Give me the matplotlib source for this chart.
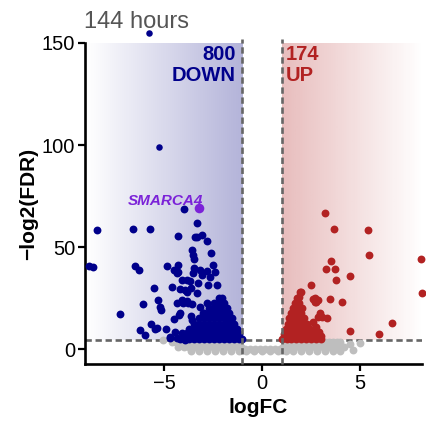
import matplotlib
matplotlib.use("Agg")
import matplotlib.pyplot as plt
import numpy as np

plt.rcParams['font.family'] = ['Liberation Sans', 'DejaVu Sans']

# scattered down-regulated genes (logFC, -log2 FDR)
down_x = [-8.41, -8.83, -8.61, -6.60, -5.71, -3.96, -4.30, -6.48, -6.26, -4.83,
          -4.30, -4.30, -3.33, -3.42, -3.30, -3.05, -2.79, -3.59, -3.50, -3.47,
          -2.62, -3.45, -3.16, -2.82, -2.48, -2.40, -5.51, -4.61, -5.29, -5.15,
          -6.09, -7.24, -6.22, -5.97, -5.68, -5.37, -4.91, -4.69, -4.51, -4.25,
          -4.10, -3.84, -3.67, -4.18, -3.93, -4.35, -4.10, -3.84, -4.49, -4.35,
          -3.50, -3.08, -2.65, -2.31, -3.25, -2.74, -3.84, -3.33, -4.10, -3.76,
          -3.16, -2.82, -4.18, -2.99, -2.57, -5.20, -4.01, -4.44, -4.10, -3.84,
          -3.59, -4.69, -4.35, -3.93, -3.76, -3.60, -3.55, -3.62, -3.58, -5.46]
down_y = [58.5, 40.8, 40.0, 58.7, 58.7, 68.8, 55.4, 40.8, 38.7, 40.8,
          41.2, 37.9, 61.9, 55.1, 54.8, 55.9, 52.9, 48.5, 46.1, 44.0,
          46.9, 39.6, 38.7, 38.4, 41.2, 37.9, 29.9, 30.2, 24.0, 19.1,
          22.2, 17.2, 9.3, 6.9, 12.3, 10.1, 9.6, 6.0, 14.6, 16.7,
          33.8, 33.8, 33.5, 29.3, 28.9, 22.4, 23.2, 23.5, 38.7, 37.4,
          37.1, 36.3, 35.5, 31.4, 32.2, 31.4, 28.1, 27.3, 24.0, 22.4,
          20.7, 22.4, 17.5, 17.5, 18.3, 20.7, 22.4, 8.5, 7.7, 8.0,
          8.5, 5.2, 5.2, 4.4, 6.0, 30.0, 22.0, 16.0, 14.0, 9.6]

# dense down-regulated core near the threshold
down_core_x = [-4.20, -3.95, -3.70, -3.45, -3.20, -2.95, -2.70, -2.45, -2.20, -1.95, -1.70, -1.45, -1.20, -1.02,
               -3.95, -3.70, -3.45, -3.20, -2.95, -2.70, -2.45, -2.20, -1.95, -1.70, -1.45, -1.18,
               -3.70, -3.45, -3.20, -2.95, -2.70, -2.45, -2.20, -1.95, -1.70, -1.45, -1.30,
               -3.45, -3.20, -2.95, -2.70, -2.45, -2.20, -1.95, -1.70, -1.45,
               -3.20, -2.95, -2.70, -2.45, -2.20, -1.95, -1.75, -1.55,
               -2.95, -2.70, -2.45, -2.20, -1.95, -1.70,
               -2.70, -2.45, -2.20, -2.00, -1.80,
               -2.45, -2.20, -1.95,
               -2.20, -2.05]
down_core_y = [5.0] * 14 + [7.5] * 12 + [10.0] * 11 + [12.5] * 9 + [15.0] * 8 + \
              [17.5] * 6 + [20.0] * 5 + [22.5] * 3 + [25.0] * 2

# up-regulated genes
up_x = [3.20, 3.66, 5.42, 5.48, 8.13, 8.18, 3.50, 3.28, 3.71, 3.76,
        4.47, 2.48, 3.45, 4.10, 2.69, 2.77, 2.87, 1.97, 1.89, 2.94,
        2.87, 3.05, 3.33, 4.47, 5.95, 6.63, 2.62, 2.70, 2.60, 2.75,
        2.90, 3.00, 1.94]
up_y = [66.5, 58.7, 58.3, 45.9, 44.1, 27.3, 43.1, 39.2, 39.2, 33.8,
        35.8, 31.4, 24.5, 23.2, 24.9, 23.2, 24.0, 28.1, 25.6, 17.8,
        15.5, 15.8, 15.0, 8.8, 7.4, 12.6, 24.4, 22.9, 13.0, 11.0,
        8.5, 6.5, 28.1]

up_core_x = [1.00, 1.25, 1.50, 1.75, 2.00, 2.25, 2.50, 2.75, 3.00,
             1.10, 1.35, 1.60, 1.85, 2.10, 2.35, 2.60, 2.85,
             1.20, 1.45, 1.70, 1.95, 2.20, 2.45, 2.70,
             1.30, 1.55, 1.80, 2.05, 2.30,
             1.40, 1.65, 1.90, 2.15,
             1.50, 1.75, 2.00,
             1.60, 1.85, 2.05,
             1.70, 1.90,
             1.80]
up_core_y = [5.0] * 9 + [7.5] * 8 + [10.0] * 7 + [12.5] * 5 + [15.0] * 4 + \
            [17.5] * 3 + [20.0] * 3 + [22.5] * 2 + [25.0]

# not significant
ns_x = [-4.6, -4.4, -4.2, -4.0, -3.8, -3.6, -3.4, -3.2, -3.0, -2.8, -2.6, -2.4, -2.2, -2.0,
        -1.8, -1.6, -1.4, -1.2,
        1.2, 1.4, 1.6, 1.8, 2.0, 2.2, 2.4, 2.6, 2.8, 3.0, 3.2, 3.4, 3.6, 3.8, 4.0,
        -4.3, -4.0, -3.7, -3.4, -3.1, -2.8, -2.5, -2.2, -1.9, -1.6, -1.3, -1.05,
        1.05, 1.3, 1.6, 1.9, 2.2, 2.5, 2.8, 3.1, 3.4, 3.7, 4.0,
        -0.85, -0.6, -0.35, -0.1, 0.15, 0.4, 0.65, 0.9,
        -3.6, -3.2, -2.8, -2.4, -2.0, -1.6, -1.2, -0.8, -0.4, 0.0, 0.4, 0.8,
        1.2, 1.6, 2.0, 2.4, 2.8, 3.2, 3.6, 4.0,
        -5.03, 4.49, 4.66, 5.0, 4.2]
ns_y = [3.2] * 33 + [1.2] * 23 + [0.0] * 8 + [-0.8] * 20 + [4.3, 2.5, -0.5, 3.1, 1.1]

top_x = [-5.77, -5.27]
top_y = [154.7, 99.2]

gene_x, gene_y, gene_name = -3.23, 69.0, "SMARCA4"
n_down, n_up = 800, 174
fdr_line = -np.log2(0.05)
fc_cut = 1

fig = plt.figure(figsize=(4.26, 4.23), dpi=100)
ax = fig.add_axes([85 / 426, 59 / 423, 337 / 426, 321 / 423])
xmin, xmax, ymin, ymax = -9.03, 8.16, -7.35, 150

# gradient backgrounds
grad = np.linspace(0, 1, 256).reshape(1, -1)
blue = np.zeros((1, 256, 4))
blue[..., :3] = matplotlib.colors.to_rgb('#000080')
blue[..., 3] = grad * 0.3
ax.imshow(blue, extent=[xmin, -fc_cut, fdr_line, ymax], aspect='auto', zorder=0, interpolation='bilinear')
red = np.zeros((1, 256, 4))
red[..., :3] = matplotlib.colors.to_rgb('#B22222')
red[..., 3] = grad[:, ::-1] * 0.3
ax.imshow(red, extent=[fc_cut, xmax, fdr_line, ymax], aspect='auto', zorder=0, interpolation='bilinear')

dash = dict(color='#666666', lw=1.9, ls=(0, (2.4, 1.4)))
ax.axhline(fdr_line, zorder=1, **dash)

ms = 32
ax.scatter(ns_x, ns_y, s=ms, c='#bebebe', lw=0, zorder=2, clip_on=False)
ax.scatter(down_x + down_core_x, down_y + down_core_y, s=ms, c='#00008B', lw=0, zorder=3, clip_on=False)
ax.scatter(up_x + up_core_x, up_y + up_core_y, s=ms, c='#B22222', lw=0, zorder=3, clip_on=False)
ax.scatter(top_x, top_y, s=22, c='#00008B', lw=0, zorder=3, clip_on=False)
ax.scatter([gene_x], [gene_y], s=48, c='#7B22D8', lw=0, zorder=4, clip_on=False)

for v in (-fc_cut, fc_cut):
    ax.plot([v, v], [ymin, 152], zorder=5, clip_on=False, **dash)

ax.text(-3.0, 70.8, gene_name, color='#7B22D8', fontsize=11, fontweight='bold',
        fontstyle='italic', ha='right', va='baseline', zorder=6)
ax.text(-1.34, 148.8, f"{n_down}\nDOWN", color='#00008B', fontsize=14.5, fontweight='bold',
        ha='right', va='top', linespacing=1.1, zorder=6)
ax.text(1.21, 148.8, f"{n_up}\nUP", color='#B22222', fontsize=14.5, fontweight='bold',
        ha='left', va='top', linespacing=1.1, zorder=6)

ax.set_xlim(xmin, xmax)
ax.set_ylim(ymin, ymax)
ax.set_xticks([-5, 0, 5])
ax.set_yticks([0, 50, 100, 150])
ax.spines['top'].set_visible(False)
ax.spines['right'].set_visible(False)
for s in ('left', 'bottom'):
    ax.spines[s].set_linewidth(1.9)
ax.tick_params(width=1.6, length=5, labelsize=14.5, colors='black', pad=2)

ax.set_xlabel('logFC', fontsize=15, fontweight='bold', labelpad=4)
ax.xaxis.set_label_coords(0.515, -0.105)
ax.set_ylabel('−log2(FDR)', fontsize=15, fontweight='bold', labelpad=3)

fig.text(84 / 426, 1 - 28 / 423, '144 hours', fontsize=17, color='#555555',
         ha='left', va='baseline')

fig.savefig('out.png', dpi=100)
